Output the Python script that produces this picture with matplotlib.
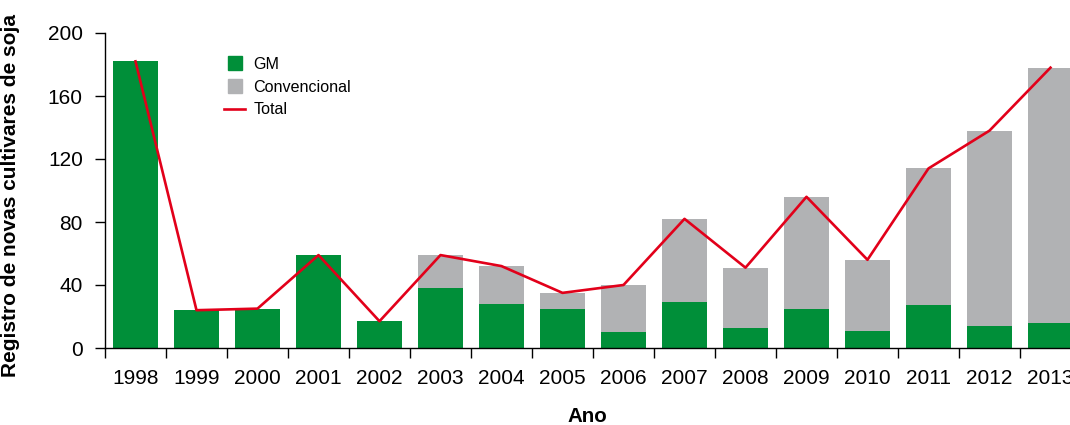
import matplotlib
matplotlib.use("Agg")
import matplotlib.pyplot as plt
from matplotlib.lines import Line2D
import numpy as np

years = ["1998", "1999", "2000", "2001", "2002", "2003", "2004", "2005",
         "2006", "2007", "2008", "2009", "2010", "2011", "2012", "2013"]
gm = [182, 24, 25, 59, 17, 38, 28, 25, 10, 29, 13, 25, 11, 27, 14, 16]
convencional = [0, 0, 0, 0, 0, 21, 24, 10, 30, 53, 38, 71, 45, 87, 124, 162]
total = [g + c for g, c in zip(gm, convencional)]

GREEN = "#008F39"
GRAY = "#B1B2B4"
RED = "#E2001A"

plt.rcParams['font.family'] = ['Liberation Sans', 'DejaVu Sans']

fig = plt.figure(figsize=(10.7, 4.25), dpi=100)
ax = fig.add_axes([105/1070, 1-348/425, 1-105/1070, 315/425])

x = np.arange(len(years))
ax.bar(x, gm, width=0.74, color=GREEN, zorder=2)
ax.bar(x, convencional, width=0.74, bottom=gm, color=GRAY, zorder=2)
ax.plot(x, total, color=RED, lw=1.9, zorder=3)

ax.set_xlim(-0.5, 15.32)
ax.set_ylim(0, 200)
ax.set_yticks([0, 40, 80, 120, 160, 200])
ax.tick_params(axis='y', direction='out', length=7, width=1, labelsize=15, pad=9)

ax.set_xticks(x - 0.5)
ax.set_xticklabels([])
ax.tick_params(axis='x', which='major', direction='out', length=7, width=1)
ax.set_xticks(x, minor=True)
ax.set_xticklabels(years, minor=True)
ax.tick_params(axis='x', which='minor', length=0, labelsize=15, pad=15)

for s in ['top', 'right']:
    ax.spines[s].set_visible(False)
ax.spines['left'].set_bounds(0, 200)
ax.spines['left'].set_linewidth(1)
ax.spines['bottom'].set_linewidth(1)

ax.set_ylabel("Registro de novas cultivares de soja", fontsize=15,
              fontweight='bold')
ax.yaxis.set_label_coords(-0.088, 0.483)
ax.set_xlabel("Ano", fontsize=14.8, fontweight='bold', labelpad=14)

handles = [
    Line2D([], [], marker='s', ls='none', color=GREEN, markersize=10),
    Line2D([], [], marker='s', ls='none', color=GRAY, markersize=10),
    Line2D([], [], color=RED, lw=1.9),
]
ax.legend(handles, ["GM", "Convencional", "Total"], loc='upper left',
          bbox_to_anchor=(0.108, 0.97), frameon=False, fontsize=11.6,
          handlelength=1.35, handletextpad=0.5, labelspacing=0.48)

fig.savefig("out.png", dpi=100)
